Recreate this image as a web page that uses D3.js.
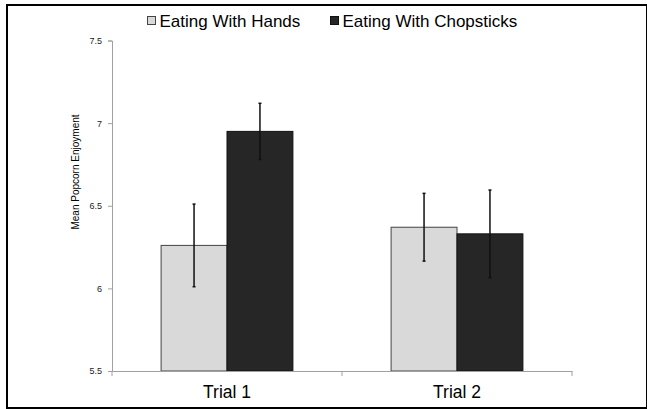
<!DOCTYPE html>
<html>
<head>
<meta charset="utf-8">
<script src="https://cdn.jsdelivr.net/npm/d3@7"></script>
<style>
  body { margin: 0; background: #fff; }
  svg { display: block; font-family: "Liberation Sans", Arial, sans-serif; }
</style>
</head>
<body>
<svg id="chart" width="647" height="409"></svg>
<script>
// data
const trials = ["Trial 1", "Trial 2"];
const seriesNames = ["Eating With Hands", "Eating With Chopsticks"];
const handsMean = [6.26, 6.37];
const chopsMean = [6.95, 6.33];
const handsErr = [0.25, 0.205];
const chopsErr = [0.17, 0.265];
const yTicks = [5.5, 6, 6.5, 7, 7.5];

const colors = ["#d9d9d9", "#262626"];
const strokes = ["#444", "#111"];

const svg = d3.select("#chart");
const margin = { left: 112, right: 75, top: 40, bottom: 38 };
const width = 647, height = 409;

// outer frame
svg.append("rect")
    .attr("x", 7).attr("y", 5)
    .attr("width", 640).attr("height", 403)
    .attr("fill", "none")
    .attr("stroke", "#000")
    .attr("stroke-width", 2);

const x = d3.scaleBand()
    .domain(trials)
    .range([margin.left, width - margin.right]);

const x1 = d3.scaleBand()
    .domain(seriesNames)
    .range([0, x.bandwidth()])
    .paddingOuter(0.745)
    .paddingInner(0);

const y = d3.scaleLinear()
    .domain([5.5, 7.5])
    .range([height - margin.bottom, margin.top + 0.5]);

const rows = trials.map((t, i) => [
    { trial: t, series: seriesNames[0], v: handsMean[i], e: handsErr[i], k: 0 },
    { trial: t, series: seriesNames[1], v: chopsMean[i], e: chopsErr[i], k: 1 }
]).flat();

// bars
svg.append("g").selectAll("rect")
    .data(rows)
    .join("rect")
    .attr("x", d => x(d.trial) + x1(d.series))
    .attr("y", d => y(d.v))
    .attr("width", x1.bandwidth())
    .attr("height", d => y(5.5) - y(d.v))
    .attr("fill", d => colors[d.k])
    .attr("stroke", d => strokes[d.k])
    .attr("stroke-width", 1);

// error bars
const eb = svg.append("g").selectAll("g")
    .data(rows)
    .join("g")
    .attr("transform", d => `translate(${x(d.trial) + x1(d.series) + x1.bandwidth() / 2},0)`);

eb.append("line")
    .attr("y1", d => y(d.v - d.e))
    .attr("y2", d => y(d.v + d.e))
    .attr("stroke", "#111")
    .attr("stroke-width", 1.5);

eb.selectAll("line.cap")
    .data(d => [d.v - d.e, d.v + d.e])
    .join("line")
    .attr("class", "cap")
    .attr("x1", -1.5).attr("x2", 1.5)
    .attr("y1", d => y(d)).attr("y2", d => y(d))
    .attr("stroke", "#111")
    .attr("stroke-width", 1.5);

// y axis
const yAxis = svg.append("g")
    .attr("transform", `translate(${margin.left},0)`)
    .call(d3.axisLeft(y).tickValues(yTicks).tickFormat(d3.format("")).tickSize(4).tickPadding(6));
yAxis.select(".domain").attr("stroke", "#a0a0a0");
yAxis.selectAll(".tick line").attr("stroke", "#a0a0a0");
yAxis.selectAll(".tick text")
    .attr("font-size", 9)
    .attr("fill", "#222")
    .attr("font-family", "'Liberation Sans', Arial, sans-serif");

// x axis
const xAxis = svg.append("g")
    .attr("transform", `translate(0,${y(5.5)})`)
    .call(d3.axisBottom(x).tickSize(0).tickPadding(15));
xAxis.select(".domain").attr("stroke", "#a0a0a0");
xAxis.selectAll(".tick text")
    .attr("font-size", 17.5)
    .attr("fill", "#000")
    .attr("font-family", "'Liberation Sans', Arial, sans-serif");

// x tick marks at band edges
const edges = [margin.left, x("Trial 2"), width - margin.right];
svg.append("g").selectAll("line")
    .data(edges)
    .join("line")
    .attr("x1", d => d).attr("x2", d => d)
    .attr("y1", y(5.5)).attr("y2", y(5.5) + 5)
    .attr("stroke", "#a0a0a0");

// y axis title
svg.append("text")
    .attr("transform", `translate(78.5,172) rotate(-90)`)
    .attr("text-anchor", "middle")
    .attr("font-size", 10)
    .attr("fill", "#000")
    .text("Mean Popcorn Enjoyment");

// legend
const legendX = [147, 330];
const legend = svg.append("g").selectAll("g")
    .data(seriesNames)
    .join("g")
    .attr("transform", (d, i) => `translate(${legendX[i]},16)`);
legend.append("rect")
    .attr("x", 0.5).attr("y", 0.5)
    .attr("width", 8).attr("height", 8)
    .attr("fill", (d, i) => colors[i])
    .attr("stroke", (d, i) => strokes[i]);
legend.append("text")
    .attr("x", 12.5).attr("y", 10.5)
    .attr("font-size", 17)
    .attr("fill", "#000")
    .text(d => d);
</script>
</body>
</html>
